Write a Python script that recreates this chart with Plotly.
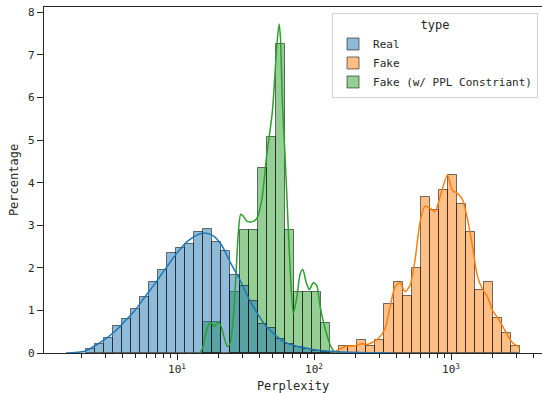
import numpy as np
import plotly.graph_objects as go

# ---------------- data ----------------
# shared histogram bins (log-spaced perplexity)
BIN_LO_PPL = 2.148
BIN_HI_PPL = 3208.0
N_BINS = 48

# percentage per bin
real_pct = [0.10, 0.22, 0.35, 0.63, 0.79, 1.04, 1.31, 1.66, 1.95, 2.34, 2.46, 2.56,
            2.85, 2.91, 2.60, 2.40, 1.84, 1.58, 1.22, 0.69, 0.59, 0.34, 0.20, 0.14,
            0.09, 0.05, 0.03, 0.02, 0, 0, 0, 0, 0, 0, 0, 0,
            0, 0, 0, 0, 0, 0, 0, 0, 0, 0, 0, 0]
fake_pct = [0, 0, 0, 0, 0, 0, 0, 0, 0, 0, 0, 0,
            0, 0, 0, 0, 0, 0, 0, 0, 0, 0, 0, 0,
            0, 0, 0, 0, 0.16, 0.16, 0.31, 0.16, 0.31, 1.16, 1.66, 1.33,
            1.99, 3.66, 3.37, 3.84, 4.17, 3.50, 2.84, 1.49, 1.66, 0.82, 0.48, 0.16]
ppl_pct = [0, 0, 0, 0, 0, 0, 0, 0, 0, 0, 0, 0,
           0, 0.72, 0.72, 0, 1.44, 2.89, 2.89, 4.34, 5.07, 7.26, 2.89, 1.43,
           1.43, 1.43, 0.71, 0, 0, 0, 0, 0, 0, 0, 0, 0,
           0, 0, 0, 0, 0, 0, 0, 0, 0, 0, 0, 0]

# KDE curves: log10(perplexity) and percentage density
real_kde_x = [0.190, 0.255, 0.328, 0.353, 0.401, 0.474, 0.547, 0.620, 0.693, 0.766,
              0.839, 0.920, 0.998, 1.071, 1.144, 1.204, 1.265, 1.326, 1.387, 1.460,
              1.520, 1.586, 1.655, 1.718, 1.783, 1.847, 1.983, 2.117, 2.336, 2.555]
real_kde_y = [0.0, 0.01, 0.04, 0.08, 0.17, 0.32, 0.51, 0.75, 1.0, 1.32,
              1.63, 2.0, 2.34, 2.61, 2.77, 2.82, 2.75, 2.53, 2.14, 1.71,
              1.30, 0.93, 0.61, 0.42, 0.26, 0.18, 0.09, 0.04, 0.01, 0.0]

fake_kde_x = [2.153, 2.190, 2.239, 2.299, 2.348, 2.385, 2.421, 2.469, 2.518, 2.555,
              2.591, 2.628, 2.664, 2.701, 2.737, 2.774, 2.810, 2.847, 2.883, 2.920,
              2.974, 3.011, 3.047, 3.084, 3.120, 3.157, 3.193, 3.230, 3.266, 3.303,
              3.339, 3.376, 3.412, 3.449, 3.499]
fake_kde_y = [0.02, 0.10, 0.16, 0.17, 0.22, 0.20, 0.24, 0.34, 0.57, 1.08,
              1.55, 1.65, 1.44, 1.59, 2.18, 3.08, 3.45, 3.40, 3.32, 3.67,
              4.18, 3.81, 3.75, 3.60, 3.15, 2.50, 1.80, 1.50, 1.32, 1.00,
              0.83, 0.63, 0.42, 0.24, 0.14]

ppl_kde_x = [1.168, 1.190, 1.204, 1.228, 1.248, 1.272, 1.297, 1.319, 1.343, 1.367,
             1.387, 1.411, 1.431, 1.447, 1.465, 1.482, 1.509, 1.545, 1.582, 1.618,
             1.655, 1.696, 1.728, 1.745, 1.755, 1.769, 1.788, 1.803, 1.825, 1.849,
             1.874, 1.898, 1.918, 1.942, 1.966, 1.995, 2.020, 2.044, 2.080, 2.117,
             2.146, 2.168]
ppl_kde_y = [0.0, 0.15, 0.38, 0.65, 0.72, 0.62, 0.72, 0.65, 0.38, 0.16,
             0.22, 0.85, 1.87, 2.81, 3.26, 3.22, 3.10, 3.08, 3.16, 3.59,
             4.65, 5.67, 7.20, 7.73, 7.40, 5.90, 4.65, 3.60, 2.00, 0.93,
             1.30, 1.85, 1.96, 1.67, 1.49, 1.65, 1.58, 1.10, 0.58, 0.20,
             0.04, 0.0]

labels = ["Real", "Fake", "Fake (w/ PPL Constriant)"]
x_major = [10, 100, 1000]
x_major_text = ["10<sup>1</sup>", "10<sup>2</sup>", "10<sup>3</sup>"]
x_minor = [2, 3, 4, 5, 6, 7, 8, 9, 20, 30, 40, 50, 60, 70, 80, 90,
           200, 300, 400, 500, 600, 700, 800, 900, 2000, 3000, 4000]

# ---------------- figure ----------------
FONT = "DejaVu Sans Mono"
colors = ["#1f77b4", "#ff7f0e", "#2ca02c"]
fills = ["rgba(31,119,180,0.5)", "rgba(255,127,14,0.5)", "rgba(44,160,44,0.5)"]

edges = np.linspace(np.log10(BIN_LO_PPL), np.log10(BIN_HI_PPL), N_BINS + 1)
centers = (edges[:-1] + edges[1:]) / 2
width = edges[1] - edges[0]

fig = go.Figure()
series = [real_pct, fake_pct, ppl_pct]
# draw in reverse order so "Real" sits on top (like seaborn)
for i in [2, 1, 0]:
    ys = [v if v > 0 else None for v in series[i]]
    fig.add_trace(go.Bar(
        x=centers, y=ys, width=width, name=labels[i], legendrank=i + 1,
        marker=dict(color=fills[i], line=dict(color="rgba(0,0,0,0.55)", width=1)),
    ))

for kx, ky, c in [(ppl_kde_x, ppl_kde_y, colors[2]),
                  (fake_kde_x, fake_kde_y, colors[1]),
                  (real_kde_x, real_kde_y, colors[0])]:
    fig.add_trace(go.Scatter(x=kx, y=ky, mode="lines", showlegend=False,
                             line=dict(color=c, width=1.5, shape="spline", smoothing=0.7)))

axcol = "#262626"
fig.update_layout(
    width=542, height=393,
    margin=dict(l=44, r=0, t=7, b=40),
    plot_bgcolor="white", paper_bgcolor="white",
    barmode="overlay", bargap=0,
    font=dict(family=FONT, size=11, color="#262626"),
    legend=dict(
        x=0.992, y=0.983, xanchor="right", yanchor="top",
        bgcolor="rgba(255,255,255,0.8)", bordercolor="#d0d0d0", borderwidth=1,
        title=dict(text="type", side="top center", font=dict(family=FONT, size=12)),
        font=dict(family=FONT, size=11),
    ),
    xaxis=dict(
        range=[0.029, 3.664],
        tickmode="array", tickvals=np.log10(x_major), ticktext=x_major_text,
        ticks="outside", ticklen=6, tickwidth=1.1, tickcolor=axcol,
        minor=dict(tickmode="array", tickvals=np.log10(x_minor), ticks="outside",
                   ticklen=3.5, tickwidth=0.9, tickcolor=axcol),
        showline=True, linecolor=axcol, linewidth=1.2, mirror=True,
        showgrid=False, zeroline=False,
        title=dict(text="Perplexity", font=dict(family=FONT, size=12), standoff=6),
        tickfont=dict(family=FONT, size=11),
    ),
    yaxis=dict(
        range=[0, 8.127], tick0=0, dtick=1,
        ticks="outside", ticklen=6, tickwidth=1.1, tickcolor=axcol,
        showline=True, linecolor=axcol, linewidth=1.2, mirror=False,
        showgrid=False, zeroline=False,
        title=dict(text="Percentage", font=dict(family=FONT, size=12), standoff=6),
        tickfont=dict(family=FONT, size=11),
    ),
)

fig.write_html("out.html")
